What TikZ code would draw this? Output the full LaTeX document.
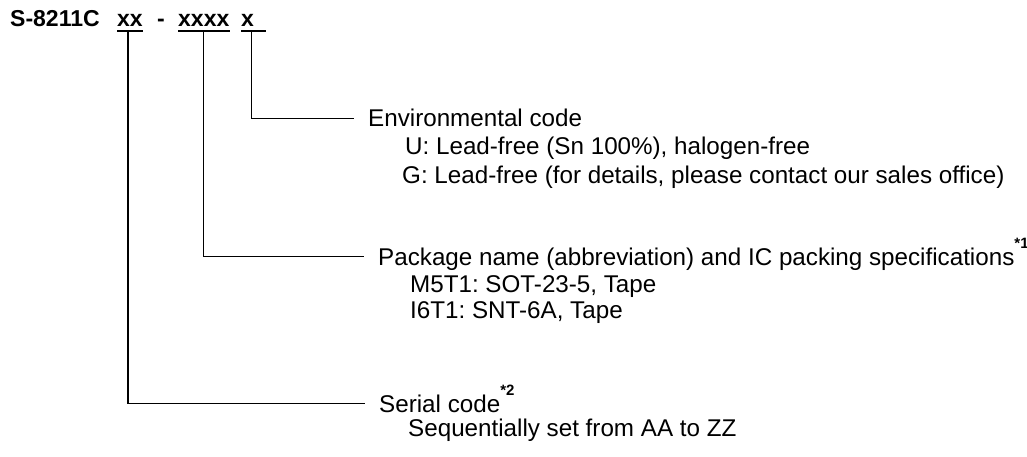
\documentclass[tikz,border=0pt]{standalone}
\usepackage{fontspec}
\setmainfont{Liberation Sans}
\usepackage{tikz}
\frenchspacing
\newcommand{\drawthin}{\draw[line width=1.3pt]}
\newcommand{\textline}[4]{\node[anchor=base west,inner sep=0pt] (#1) at (#2,#3) {#4};}
\newcommand{\starnote}[1]{\raisebox{17pt}{\fontsize{15}{15}\selectfont\bfseries *#1}}
\tikzset{
  codepart/.style={anchor=base west,inner sep=0pt,font=\fontsize{23}{28}\selectfont\bfseries},
  heading/.style={anchor=base west,inner xsep=14pt,inner ysep=0pt,text height=17pt,text depth=0pt},
}

\begin{document}
\begin{tikzpicture}[x=1pt,y=-1pt,font=\fontsize{24.2}{28}\selectfont]
\useasboundingbox (0,0) rectangle (1027,457);
\node[codepart] (part) at (10,27) {S-8211C};
    \node[codepart] (xx) at (117,27) {xx};
    \node[codepart] (dash) at (157,27) {-};
    \node[codepart] (xxxx) at (178,27) {xxxx};
    \node[codepart] (x) at (241,27) {x};
\drawthin ([yshift=-4pt]xx.base west) -- ([yshift=-4pt]xx.base east);
    \drawthin ([yshift=-4pt]xxxx.base west) -- ([yshift=-4pt]xxxx.base east);
    \drawthin ([yshift=-4pt]x.base west) -- ([xshift=12pt,yshift=-4pt]x.base east);
\node[heading] (env) at (354,127) {Environmental code};
    \node[heading] (pkg) at (364,265) {Package name (abbreviation) and IC packing specifications\starnote{1}};
    \node[heading] (ser) at (365,412) {Serial code\starnote{2}};
\textline{envu}{405}{155}{U: Lead-free (Sn 100\%), halogen-free}\textline{envg}{402}{183}{G: Lead-free (for details, please contact our sales office)}\textline{pkgm}{410}{292}{M5T1: SOT-23-5, Tape}\textline{pkgi}{410}{318}{I6T1: SNT-6A, Tape}\textline{serseq}{408}{436}{Sequentially set from AA to ZZ}
\drawthin ([xshift=4pt,yshift=-4pt]x.base) |- (env.west);
    \drawthin ([yshift=-4pt]xxxx.base) |- (pkg.west);
    \drawthin ([xshift=-2pt,yshift=-4pt]xx.base) |- (ser.west);
\end{tikzpicture}
\end{document}
